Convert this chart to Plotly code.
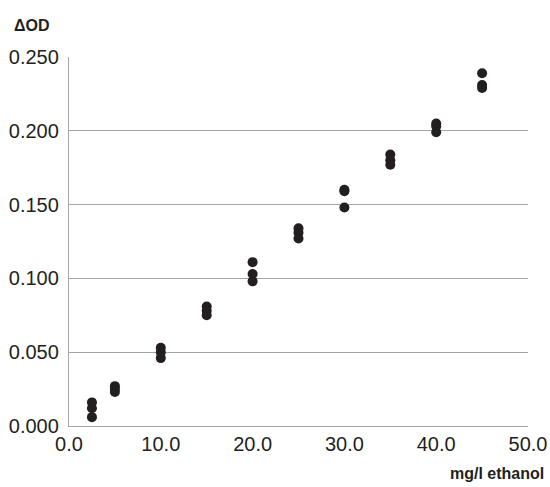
import plotly.graph_objects as go

concentrations = [2.5, 5, 10, 15, 20, 25, 30, 35, 40, 45]
rep1 = [0.016, 0.027, 0.053, 0.081, 0.111, 0.134, 0.160, 0.184, 0.205, 0.239]
rep2 = [0.012, 0.025, 0.050, 0.078, 0.103, 0.131, 0.159, 0.180, 0.203, 0.231]
rep3 = [0.006, 0.023, 0.046, 0.075, 0.098, 0.127, 0.148, 0.177, 0.199, 0.229]

x_ticks = [0, 10, 20, 30, 40, 50]
y_ticks = [0, 0.05, 0.10, 0.15, 0.20, 0.25]

xs, ys = [], []
for rep in (rep1, rep2, rep3):
    xs += concentrations
    ys += rep

ink = "#231f20"
grid = "#a6a6a6"
font = "Liberation Sans, Arial, Helvetica, sans-serif"

fig = go.Figure()
fig.add_trace(go.Scatter(
    x=xs, y=ys, mode="markers",
    marker=dict(size=10, color=ink, line=dict(width=0)),
    showlegend=False, hoverinfo="skip"))

fig.update_layout(
    width=550, height=487,
    margin=dict(l=69, r=22, t=57, b=61),
    paper_bgcolor="white", plot_bgcolor="white",
    font=dict(family=font, color=ink, size=20),
    xaxis=dict(range=[0, 50], tickvals=x_ticks, tickformat=".1f",
               showgrid=False, zeroline=False, showline=True,
               linecolor=grid, linewidth=1.3, ticks="", automargin=False,
               tickfont=dict(size=20, color=ink)),
    yaxis=dict(range=[0, 0.25], tickvals=y_ticks, tickformat=".3f",
               showgrid=True, gridcolor=grid, gridwidth=1.3,
               zeroline=False, showline=True, linecolor=grid, linewidth=1.3,
               ticks="", ticklabelstandoff=5, automargin=False,
               tickfont=dict(size=20, color=ink)),
    annotations=[
        dict(text="<b>ΔOD</b>", xref="paper", yref="paper",
             x=-0.0806, y=1.0, xanchor="center", yanchor="bottom",
             yshift=21, showarrow=False, font=dict(size=16, color=ink)),
        dict(text="<b>mg/l ethanol</b>", xref="paper", yref="paper",
             x=1.0, y=0, xanchor="right", yanchor="top",
             xshift=18, yshift=-37, showarrow=False,
             font=dict(size=16, color=ink)),
    ],
)

fig.write_html(
    "out.html",
    config={"displayModeBar": False},
    post_script="document.body.style.margin='0';document.body.style.overflow='hidden';",
)
